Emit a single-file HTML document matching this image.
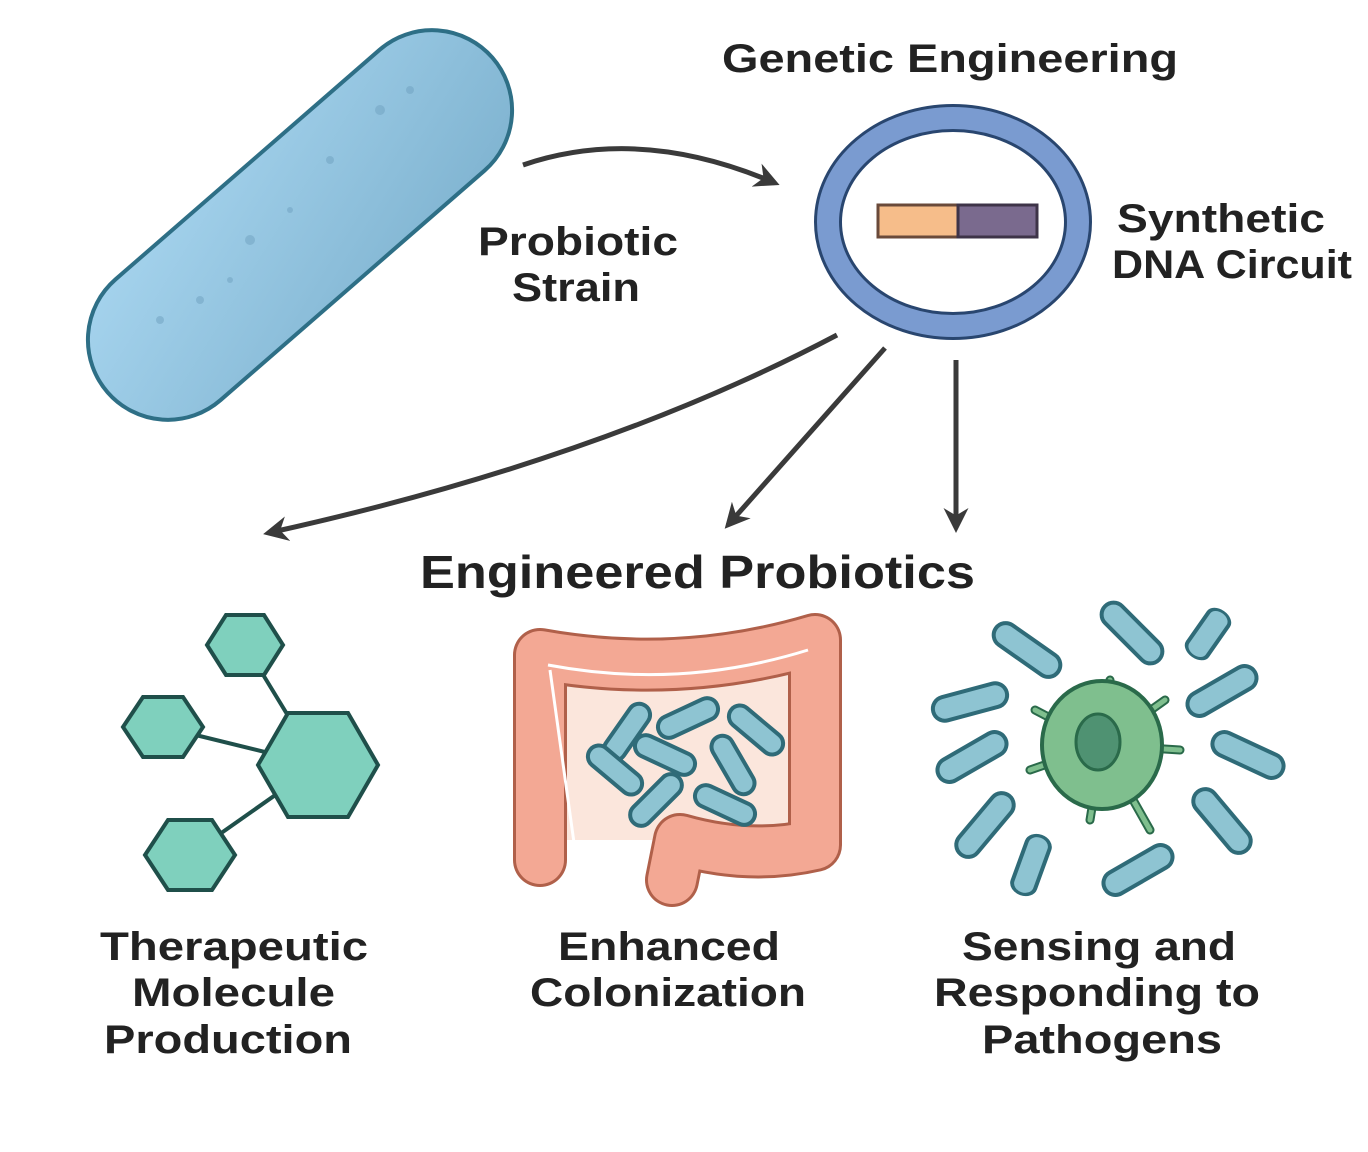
<!DOCTYPE html><html><head><style>body{margin:0;background:#fff}svg{display:block}text{font-family:"Liberation Sans",sans-serif;font-weight:bold;fill:#222}</style></head><body>
<svg width="1368" height="1152" viewBox="0 0 1368 1152" xmlns="http://www.w3.org/2000/svg">
<defs>
<linearGradient id="bg" x1="0" y1="0" x2="1" y2="1"><stop offset="0" stop-color="#a6d4ee"/><stop offset="1" stop-color="#7fb3d0"/></linearGradient>
<marker id="ah" viewBox="0 0 10 10" refX="8" refY="5" markerWidth="5" markerHeight="5" orient="auto"><path d="M0,0 L10,5 L0,10 L3,5z" fill="#3a3a3a"/></marker>
<g id="rod"><rect x="-38" y="-12" width="76" height="24" rx="12" fill="#8ec4d2" stroke="#2f6b78" stroke-width="4"/></g>
<g id="grod"><rect x="-32" y="-11" width="64" height="22" rx="11" fill="#8ec4d2" stroke="#2f6b78" stroke-width="4"/></g>
</defs>
<rect x="45" y="145" width="510" height="160" rx="80" transform="rotate(-41 300 225)" fill="url(#bg)" stroke="#2e6f86" stroke-width="4"/>
<g fill="#6fa1c0" opacity=".5"><circle cx="380" cy="110" r="5"/><circle cx="330" cy="160" r="4"/><circle cx="250" cy="240" r="5"/><circle cx="200" cy="300" r="4"/><circle cx="160" cy="320" r="4"/><circle cx="290" cy="210" r="3"/><circle cx="410" cy="90" r="4"/><circle cx="230" cy="280" r="3"/></g>
<g fill="none" stroke="#3a3a3a" stroke-width="5">
<path d="M523,165 Q640,125 775,183" marker-end="url(#ah)"/>
<path d="M837,335 Q600,460 268,533" marker-end="url(#ah)"/>
<path d="M885,348 L728,525" marker-end="url(#ah)"/>
<path d="M956,360 L956,528" marker-end="url(#ah)"/>
</g>
<ellipse cx="953" cy="222" rx="125" ry="104" fill="none" stroke="#29466f" stroke-width="28"/>
<ellipse cx="953" cy="222" rx="125" ry="104" fill="none" stroke="#7a9bd0" stroke-width="22"/>
<rect x="878" y="205" width="80" height="32" fill="#f6bd8a" stroke="#6a4a3a" stroke-width="3"/>
<rect x="958" y="205" width="79" height="32" fill="#7a6a8e" stroke="#3e3448" stroke-width="3"/>
<text x="722" y="72" font-size="40" textLength="456" lengthAdjust="spacingAndGlyphs">Genetic Engineering</text>
<text x="478" y="255" font-size="40" textLength="200" lengthAdjust="spacingAndGlyphs">Probiotic</text>
<text x="512" y="301" font-size="40" textLength="128" lengthAdjust="spacingAndGlyphs">Strain</text>
<text x="1117" y="232" font-size="40" textLength="208" lengthAdjust="spacingAndGlyphs">Synthetic</text>
<text x="1112" y="278" font-size="40" textLength="240" lengthAdjust="spacingAndGlyphs">DNA Circuit</text>
<text x="420" y="588" font-size="46" textLength="555" lengthAdjust="spacingAndGlyphs">Engineered Probiotics</text>
<g stroke="#1f4f4a" stroke-width="4"><line x1="245" y1="645" x2="318" y2="765"/><line x1="163" y1="727" x2="318" y2="765"/><line x1="190" y1="855" x2="318" y2="765"/></g>
<g fill="#7fd0bd" stroke="#1f4f4a" stroke-width="4">
<polygon points="207,645 226,615 264,615 283,645 264,675 226,675"/>
<polygon points="123,727 143,697 183,697 203,727 183,757 143,757"/>
<polygon points="145,855 168,820 212,820 235,855 212,890 168,890"/>
<polygon points="258,765 288,713 348,713 378,765 348,817 288,817"/>
</g>
<rect x="560" y="670" width="240" height="170" fill="#fbe6dc"/>
<path d="M540,860 L540,655 Q680,680 815,640 L815,845 Q750,860 680,840 L672,880" fill="none" stroke="#b0604a" stroke-width="54" stroke-linejoin="round" stroke-linecap="round"/>
<path d="M540,860 L540,655 Q680,680 815,640 L815,845 Q750,860 680,840 L672,880" fill="none" stroke="#f3a894" stroke-width="48" stroke-linejoin="round" stroke-linecap="round"/>
<path d="M548,665 Q680,690 808,650 M550,670 L575,850 L585,865" fill="none" stroke="#fff" stroke-width="3"/>
<g>
<use href="#grod" transform="translate(627,732) rotate(-55)"/><use href="#grod" transform="translate(688,718) rotate(-25)"/><use href="#grod" transform="translate(756,730) rotate(40)"/><use href="#grod" transform="translate(665,755) rotate(25)"/><use href="#grod" transform="translate(733,765) rotate(60)"/><use href="#grod" transform="translate(615,770) rotate(40)"/><use href="#grod" transform="translate(656,800) rotate(-45)"/><use href="#grod" transform="translate(725,805) rotate(25)"/>
</g>
<g stroke="#2a6a4a" stroke-width="9" stroke-linecap="round" fill="none"><path d="M1102,745 L1110,680"/><path d="M1102,745 L1035,710"/><path d="M1102,745 L1165,700"/><path d="M1102,745 L1180,750"/><path d="M1102,745 L1030,770"/><path d="M1102,745 L1090,820"/><path d="M1102,745 L1150,830"/></g>
<g stroke="#7fbf8e" stroke-width="5" stroke-linecap="round" fill="none"><path d="M1102,745 L1110,680"/><path d="M1102,745 L1035,710"/><path d="M1102,745 L1165,700"/><path d="M1102,745 L1180,750"/><path d="M1102,745 L1030,770"/><path d="M1102,745 L1090,820"/><path d="M1102,745 L1150,830"/></g>
<ellipse cx="1102" cy="745" rx="60" ry="64" fill="#7fbf8e" stroke="#2a6a4a" stroke-width="4"/>
<ellipse cx="1098" cy="742" rx="22" ry="28" fill="#4f9272" stroke="#2a6a4a" stroke-width="3"/>
<use href="#rod" transform="translate(1027,650) rotate(35)"/><use href="#rod" transform="translate(1132,633) rotate(45)"/><use href="#rod" transform="translate(1208,634) rotate(-55) scale(.7,1)"/><use href="#rod" transform="translate(1222,691) rotate(-30)"/><use href="#rod" transform="translate(970,702) rotate(-15)"/><use href="#rod" transform="translate(1248,755) rotate(25)"/><use href="#rod" transform="translate(972,757) rotate(-30)"/><use href="#rod" transform="translate(985,825) rotate(-50)"/><use href="#rod" transform="translate(1222,821) rotate(50)"/><use href="#rod" transform="translate(1031,865) rotate(-70) scale(.8,1)"/><use href="#rod" transform="translate(1138,870) rotate(-30)"/>
<g font-size="40">
<text x="100" y="960" textLength="268" lengthAdjust="spacingAndGlyphs">Therapeutic</text>
<text x="132" y="1006" textLength="203" lengthAdjust="spacingAndGlyphs">Molecule</text>
<text x="104" y="1053" textLength="248" lengthAdjust="spacingAndGlyphs">Production</text>
<text x="558" y="960" textLength="222" lengthAdjust="spacingAndGlyphs">Enhanced</text>
<text x="530" y="1006" textLength="276" lengthAdjust="spacingAndGlyphs">Colonization</text>
<text x="962" y="960" textLength="274" lengthAdjust="spacingAndGlyphs">Sensing and</text>
<text x="934" y="1006" textLength="326" lengthAdjust="spacingAndGlyphs">Responding to</text>
<text x="982" y="1053" textLength="240" lengthAdjust="spacingAndGlyphs">Pathogens</text>
</g>
</svg></body></html>
